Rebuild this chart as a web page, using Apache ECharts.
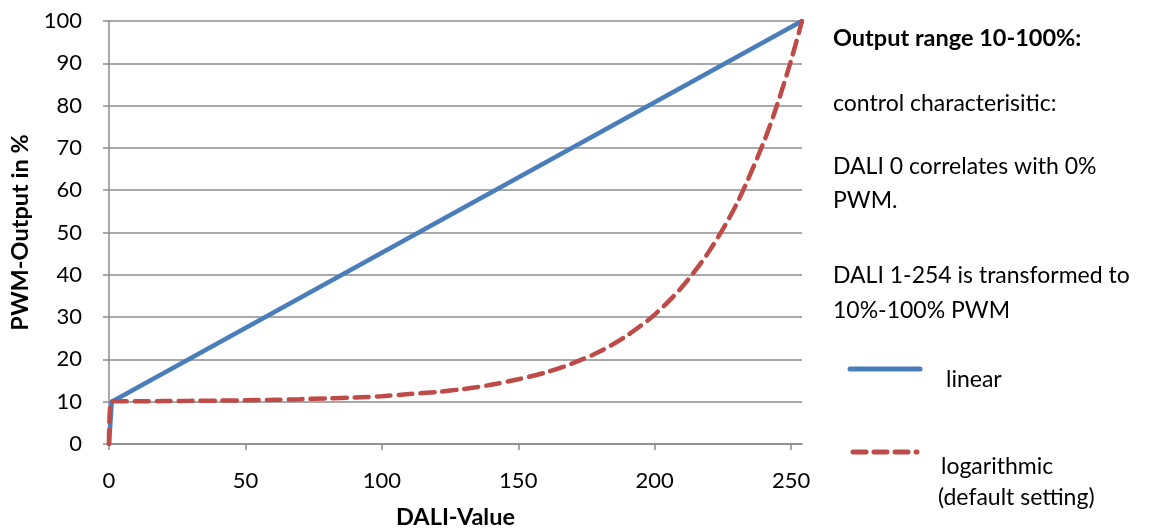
<!DOCTYPE html>
<html><head><meta charset="utf-8">
<script src="https://cdn.jsdelivr.net/npm/echarts@6/dist/echarts.min.js"></script>
<style>html,body{margin:0;padding:0;background:#fff}#c{width:1149px;height:528px}</style>
</head><body><div id="c"></div>
<script>
const dali = [0, 1, 10, 20, 30, 40, 50, 60, 70, 80, 90, 100, 110, 120, 130, 140, 150, 160, 170, 180, 190, 200, 210, 220, 230, 240, 245, 250, 254];
const logarithmic = [0, 10.1, 10.1, 10.15, 10.2, 10.26, 10.34, 10.45, 10.6, 10.8, 11.0, 11.3, 11.8, 12.3, 13.0, 14.0, 15.3, 16.9, 19.1, 21.9, 25.7, 30.6, 37.1, 45.6, 56.7, 71.4, 80.4, 90.7, 100];
const daliLinear = [0, 1, 254];
const linear = [0, 10, 100];
const xTicks = [0, 50, 100, 150, 200, 250];
const yTicks = [0, 10, 20, 30, 40, 50, 60, 70, 80, 90, 100];
const notes = ['Output range 10-100%:', 'control characterisitic:', 'DALI 0 correlates with 0%', 'PWM.', 'DALI 1-254 is transformed to', '10%-100% PWM'];
const seriesNames = ['linear', 'logarithmic', '(default setting)'];

const FONT = 'Lato';
const BLUE = '#4a7ebb', RED = '#be4b48', GRID = '#8c8c8c';
const chart = echarts.init(document.getElementById('c'), null, {renderer: 'canvas'});
const noteY = [38, 104, 167, 201, 276, 311];
const graphics = notes.map((t, i) => ({
  type: 'text', x: 833, y: noteY[i],
  style: {text: t, fill: '#000', font: (i === 0 ? 'bold 23.5px ' : '23px ') + FONT, verticalAlign: 'middle', align: 'left'}
}));
graphics.push(
  {type: 'line', shape: {x1: 850, y1: 369, x2: 920, y2: 369}, style: {stroke: BLUE, lineWidth: 5, lineCap: 'round'}},
  {type: 'text', x: 946, y: 380, style: {text: seriesNames[0], fill: '#000', font: '23px ' + FONT, verticalAlign: 'middle'}},
  {type: 'line', shape: {x1: 853, y1: 452, x2: 917, y2: 452}, style: {stroke: RED, lineWidth: 5, lineDash: [13, 8], lineCap: 'round'}},
  {type: 'text', x: 941, y: 467, style: {text: seriesNames[1], fill: '#000', font: '23px ' + FONT, verticalAlign: 'middle'}},
  {type: 'text', x: 938, y: 498, style: {text: seriesNames[2], fill: '#000', font: '23px ' + FONT, verticalAlign: 'middle'}}
);
chart.setOption({
  animation: false,
  grid: {left: 109, right: 347, top: 21, bottom: 84, containLabel: false, outerBoundsMode: 'none'},
  xAxis: {
    type: 'value', min: 0, max: 254, interval: 50,
    name: 'DALI-Value', nameLocation: 'middle', nameGap: 61,
    nameTextStyle: {fontFamily: FONT, fontWeight: 'bold', fontSize: 23.5, color: '#000'},
    axisLine: {show: true, lineStyle: {color: GRID, width: 1.5}},
    axisTick: {show: true, length: 6, lineStyle: {color: GRID, width: 1.5}},
    axisLabel: {fontFamily: FONT, fontSize: 22, color: '#000', margin: 26, showMaxLabel: false,
      formatter: v => xTicks.includes(v) ? String(v) : ''},
    splitLine: {show: false}
  },
  yAxis: {
    type: 'value', min: 0, max: 100, interval: 10,
    name: 'PWM-Output in %', nameLocation: 'middle', nameGap: 71, nameRotate: 90,
    nameTextStyle: {fontFamily: FONT, fontWeight: 'bold', fontSize: 23.5, color: '#000'},
    axisLine: {show: true, lineStyle: {color: GRID, width: 1.5}},
    axisTick: {show: true, length: 6, lineStyle: {color: GRID, width: 1.5}},
    axisLabel: {fontFamily: FONT, fontSize: 22, color: '#000', margin: 27,
      formatter: v => yTicks.includes(v) ? String(v) : ''},
    splitLine: {show: true, lineStyle: {color: GRID, width: 1.5}}
  },
  series: [
    {name: seriesNames[0], type: 'line', data: daliLinear.map((x, i) => [x, linear[i]]),
      showSymbol: false, symbol: 'none', lineStyle: {color: BLUE, width: 4.5}, z: 2},
    {name: seriesNames[1], type: 'line', data: dali.map((x, i) => [x, logarithmic[i]]),
      smooth: 0.3, showSymbol: false, symbol: 'none',
      lineStyle: {color: RED, width: 4.5, type: [14, 8], cap: 'round'}, z: 3}
  ],
  graphic: graphics
});
</script></body></html>
